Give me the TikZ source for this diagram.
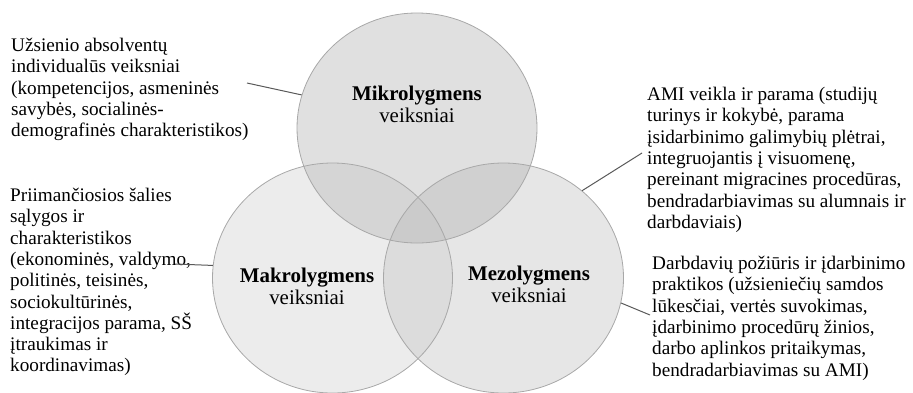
\documentclass[tikz,border=0pt]{standalone}
\usepackage{fontspec}
\setmainfont{Liberation Serif}
\usetikzlibrary{shapes.geometric}
\definecolor{ringgray}{HTML}{A8A8A8}
\definecolor{leadgray}{HTML}{595959}
\definecolor{microfill}{HTML}{E0E0E0}
\definecolor{macrofill}{HTML}{ECECEC}
\definecolor{mesofill}{HTML}{E6E6E6}
\definecolor{micromacro}{HTML}{D5D5D5}
\definecolor{micromeso}{HTML}{D0D0D0}
\definecolor{macromeso}{HTML}{DCDCDC}
\definecolor{allthree}{HTML}{CBCBCB}
\begin{document}
\begin{tikzpicture}[x=1pt,y=-1pt,
  ring/.style={ellipse, minimum width=240pt, minimum height=230pt,
    inner sep=0pt, draw=ringgray, line width=0.8pt},
  rad/.style={x radius=120pt, y radius=115pt},
  sidetext/.style={anchor=north west, inner sep=0pt, align=left,
    font=\fontsize{19.2}{21.3}\selectfont},
  levellabel/.style={anchor=north, inner sep=0pt, align=center,
    font=\fontsize{20.9}{22}\selectfont},
  leader/.style={draw=leadgray, line width=1pt}]

\useasboundingbox (0,0) rectangle (913,392);

% region shading of the three overlapping levels
\fill[microfill] (417,128)   ellipse [rad];
\fill[macrofill] (332.5,278) ellipse [rad];
\fill[mesofill]  (503.5,278) ellipse [rad];
\begin{scope}
  \clip (417,128) ellipse [rad];
  \fill[micromacro] (332.5,278) ellipse [rad];
  \fill[micromeso]  (503.5,278) ellipse [rad];
\end{scope}
\begin{scope}
  \clip (332.5,278) ellipse [rad];
  \fill[macromeso] (503.5,278) ellipse [rad];
  \clip (417,128) ellipse [rad];
  \fill[allthree] (503.5,278) ellipse [rad];
\end{scope}

% outlines
\node[ring] (micro) at (417,128) {};
\node[ring] (macro) at (332.5,278) {};
\node[ring] (meso)  at (503.5,278) {};

% level names
\node[levellabel] (microlbl) at (417,86)  {\textbf{Mikrolygmens}\\veiksniai};
\node[levellabel] (macrolbl) at (307,268) {\textbf{Makrolygmens}\\veiksniai};
\node[levellabel] (mesolbl)  at (529,266) {\textbf{Mezolygmens}\\veiksniai};

% descriptions
\node[sidetext] (indiv) at (11,38) {Užsienio absolventų\\individualūs veiksniai\\(kompetencijos, asmeninės\\savybės, socialinės-\\demografinės charakteristikos)};
\node[sidetext] (host) at (10,188) {Priimančiosios šalies\\sąlygos ir\\charakteristikos\\(ekonominės, valdymo,\\politinės, teisinės,\\sociokultūrinės,\\integracijos parama, SŠ\\įtraukimas ir\\koordinavimas)};
\node[sidetext] (ami) at (647,87) {AMI veikla ir parama (studijų\\turinys ir kokybė, parama\\įsidarbinimo galimybių plėtrai,\\integruojantis į visuomenę,\\pereinant migracines procedūras,\\bendradarbiavimas su alumnais ir\\darbdaviais)};
\node[sidetext] (empl) at (652,256) {Darbdavių požiūris ir įdarbinimo\\praktikos (užsieniečių samdos\\lūkesčiai, vertės suvokimas,\\įdarbinimo procedūrų žinios,\\darbo aplinkos pritaikymas,\\bendradarbiavimas su AMI)};

% leader lines
\coordinate (indivend) at (247,83);
\coordinate (hostend)  at (175,264);
\coordinate (amiend)   at (642,153);
\coordinate (emplend)  at (650,315);
\draw[leader] (indivend) -- (micro.164);
\draw[leader] (hostend)  -- (macro.174.7);
\draw[leader] (amiend)   -- (meso.48.2);
\draw[leader] (emplend)  -- (meso.-12.6);
\end{tikzpicture}
\end{document}
